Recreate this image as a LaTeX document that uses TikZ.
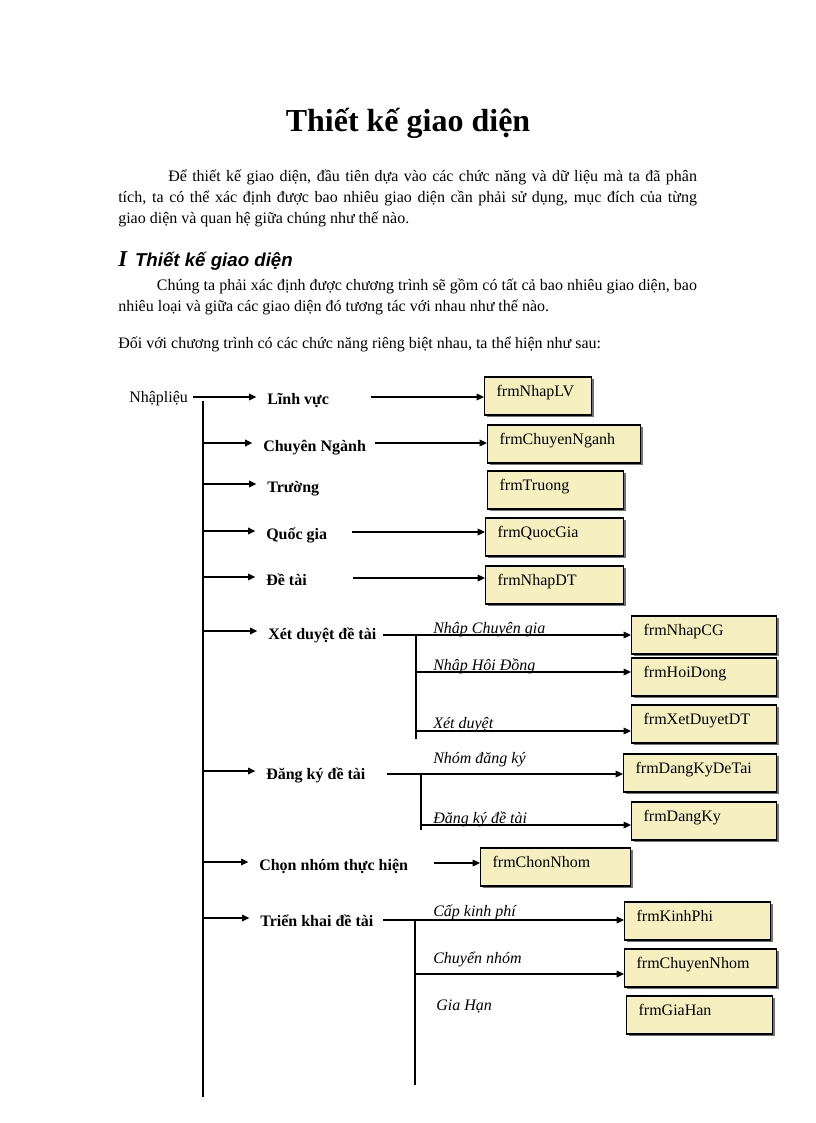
\documentclass[tikz,border=0pt]{standalone}
\usepackage{fontspec}
\setmainfont{Liberation Serif}
\newfontfamily\headsans{Liberation Sans}
\usetikzlibrary{arrows.meta,positioning,shadows}
\definecolor{frmfill}{RGB}{246,239,192}

\begin{document}
\begin{tikzpicture}[x=0.75pt,y=-0.75pt,
    frm/.style={draw,line width=0.9pt,fill=frmfill,anchor=west,align=left,
      inner xsep=9pt,inner ysep=0pt,minimum height=28.5pt,text depth=7pt,
      font=\fontsize{12}{14}\selectfont,
      drop shadow={shadow xshift=1.5pt,shadow yshift=-1.5pt,fill=black!55,opacity=1}},
    item/.style={anchor=base west,inner sep=0pt,font=\fontsize{12}{14}\selectfont\bfseries},
    sub/.style={anchor=base west,inner sep=0pt,font=\fontsize{12}{14}\selectfont\itshape},
    para/.style={anchor=base west,inner sep=0pt,text width=434pt,align=justify,
      font=\fontsize{12}{15.75}\selectfont},
    arr/.style={-{Triangle[length=5.5pt,width=5pt]},line width=0.9pt}]

    \path[fill=white] (0,0) rectangle (816,1123);

    % text above the chart
    \node[font=\fontsize{24}{28}\selectfont\bfseries] (title) at (408,123) {Thiết kế giao diện};
    \node[para] (p1) at (118,182) {\hspace*{37.5pt}Để thiết kế giao diện, đầu tiên dựa vào các chức năng và dữ liệu mà ta đã phân\linebreak
      tích, ta có thể xác định được bao nhiêu giao diện cần phải sử dụng, mục đích của từng\linebreak
      giao diện và quan hệ giữa chúng như thế nào.};
    \node[anchor=base west,inner sep=0pt] (h1) at (118,266)
      {{\fontsize{17}{17}\selectfont\bfseries\itshape I}\hspace{6pt}{\headsans\fontsize{14}{14}\selectfont\bfseries\itshape Thiết kế giao diện}};
    \node[para] (p2) at (118,290) {\hspace*{29pt}Chúng ta phải xác định được chương trình sẽ gồm có tất cả bao nhiêu giao diện, bao\linebreak
      nhiêu loại và giữa các giao diện đó tương tác với nhau như thế nào.};
    \node[para] (p3) at (118,348) {Đối với chương trình có các chức năng riêng biệt nhau, ta thể hiện như sau:};

    % root and main line
    \node[anchor=base west,inner sep=0pt,font=\fontsize{12}{14}\selectfont] (root) at (129,402) {Nhậpliệu};
    \coordinate (top) at (203,401);
    \coordinate (bot) at (203,1097);
    \draw[line width=1pt] (top) -- (bot);

    % first level
    \node[item] (lv) at (267,404) {Lĩnh vực};
    \node[item] (cn) at (263,451) {Chuyên Ngành};
    \node[item] (tr) at (267,492) {Trường};
    \node[item] (qg) at (266,539) {Quốc gia};
    \node[item] (dt) at (266,585) {Đề tài};
    \node[item] (xd) at (268,639) {Xét duyệt đề tài};
    \node[item] (dk) at (266,779) {Đăng ký đề tài};
    \node[item] (cnh) at (259,870) {Chọn nhóm thực hiện};
    \node[item] (tk) at (260,926) {Triển khai đề tài};

    % forms
    \node[frm,text width=62.25pt] (NhapLV) at (484,396) {frmNhapLV};
    \node[frm,text width=96.75pt] (ChuyenNganh) at (487,444) {frmChuyenNganh};
    \node[frm,text width=84pt] (Truong) at (487,490) {frmTruong};
    \node[frm,text width=85.5pt] (QuocGia) at (485,537) {frmQuocGia};
    \node[frm,text width=85.5pt] (NhapDT) at (485,585) {frmNhapDT};
    \node[frm,text width=90.75pt] (NhapCG) at (631,635) {frmNhapCG};
    \node[frm,text width=90.75pt] (HoiDong) at (631,677) {frmHoiDong};
    \node[frm,text width=90.75pt] (XetDuyetDT) at (631,724) {frmXetDuyetDT};
    \node[frm,text width=96.75pt] (DangKyDeTai) at (623,773) {frmDangKyDeTai};
    \node[frm,text width=90.75pt] (DangKy) at (631,821) {frmDangKy};
    \node[frm,text width=94.5pt] (ChonNhom) at (480,867) {frmChonNhom};
    \node[frm,text width=91.5pt] (KinhPhi) at (624,921) {frmKinhPhi};
    \node[frm,text width=96pt] (ChuyenNhom) at (624,968) {frmChuyenNhom};
    \node[frm,text width=91.5pt] (GiaHan) at (626,1015) {frmGiaHan};

    % arrows from the main line
    \draw[arr,shorten >=8pt] (root.east |- 0,397) ++(5,0) -- (lv.west |- 0,397);
    \foreach \n/\y in {cn/443,tr/484,qg/531,dt/577,xd/631,dk/771,cnh/862,tk/918}
      \draw[arr,shorten >=8pt] (top |- 0,\y) -- (\n.west |- 0,\y);

    % arrows to the forms
    \draw[arr] ([xshift=31.5pt]lv.east |- 0,397) -- (NhapLV.west |- 0,397);
    \draw[arr] ([xshift=6.75pt]cn.east |- 0,443) -- (ChuyenNganh.west |- 0,443);
    \draw[arr] ([xshift=18.75pt]qg.east |- 0,532) -- (QuocGia.west |- 0,532);
    \draw[arr] ([xshift=34.5pt]dt.east |- 0,578) -- (NhapDT.west |- 0,578);
    \draw[arr] ([xshift=19pt]cnh.east |- 0,863) -- (ChonNhom.west |- 0,863);

    % Xet duyet de tai
    \coordinate (xdv) at (416,635);
    \draw[arr] ([xshift=5pt]xd.east |- 0,635) -- (NhapCG.west |- 0,635);
    \draw[line width=1pt] (xdv) -- (416,739);
    \draw[arr] (xdv |- 0,672) -- (HoiDong.west |- 0,672);
    \draw[arr] (xdv |- 0,731) -- (XetDuyetDT.west |- 0,731);
    \node[sub] (s1) at (433,633) {Nhập Chuyên gia};
    \node[sub] (s2) at (433,670) {Nhập Hội Đồng};
    \node[sub] (s3) at (433,728) {Xét duyệt};

    % Dang ky de tai
    \coordinate (dkv) at (421,774);
    \draw[arr] ([xshift=16pt]dk.east |- 0,774) -- (DangKyDeTai.west |- 0,774);
    \draw[line width=1pt] (dkv) -- (421,830);
    \draw[arr] (dkv |- 0,825) -- (DangKy.west |- 0,825);
    \node[sub] (s4) at (433,763) {Nhóm đăng ký};
    \node[sub] (s5) at (433,823) {Đăng ký đề tài};

    % Trien khai de tai
    \coordinate (tkv) at (415,920);
    \draw[arr] ([xshift=7pt]tk.east |- 0,920) -- (KinhPhi.west |- 0,920);
    \draw[line width=1pt] (tkv) -- (415,1085);
    \draw[arr] (tkv |- 0,974) -- (ChuyenNhom.west |- 0,974);
    \node[sub] (s6) at (433,916) {Cấp kinh phí};
    \node[sub] (s7) at (433,963) {Chuyển nhóm};
    \node[sub] (s8) at (436,1010) {Gia Hạn};
\end{tikzpicture}
\end{document}
